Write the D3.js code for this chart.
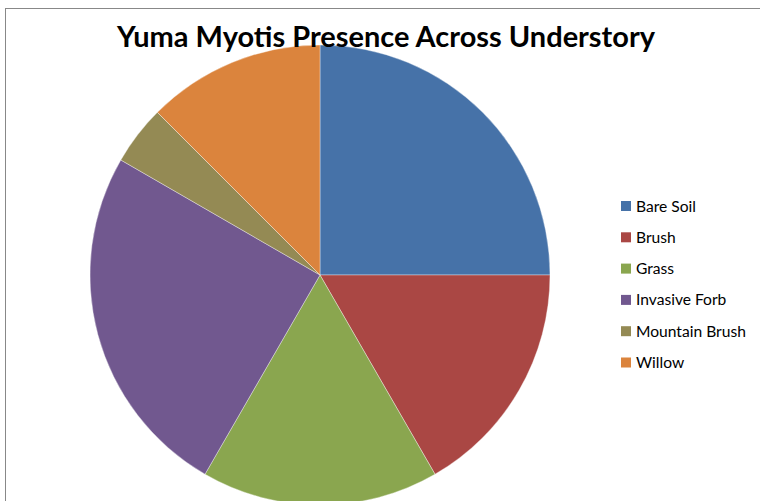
<!DOCTYPE html>
<html>
<head>
<meta charset="utf-8">
<script src="https://cdn.jsdelivr.net/npm/d3@7"></script>
<style>
  html, body { margin: 0; padding: 0; background: #fff; }
  svg { display: block; }
</style>
</head>
<body>
<svg id="chart" width="760" height="501"></svg>
<script>
// Understory categories and the count of Yuma myotis detections in each
const categories = ["Bare Soil", "Brush", "Grass", "Invasive Forb", "Mountain Brush", "Willow"];
const counts = [6, 4, 4, 6, 1, 3];
const colors = ["#4672A8", "#AA4744", "#8AA64F", "#71588F", "#948A54", "#DB843D"];
const title = "Yuma Myotis Presence Across Understory";

const svg = d3.select("#chart");
const W = 760, H = 501;

// chart area frame
svg.append("rect")
  .attr("x", 5.5).attr("y", 8.5)
  .attr("width", W + 10).attr("height", H + 10)
  .attr("fill", "#fff")
  .attr("stroke", "#888").attr("stroke-width", 1);

const data = categories.map((c, i) => ({ name: c, value: counts[i], color: colors[i] }));

const pie = d3.pie().value(d => d.value).sort(null);
const radius = 230;
const arc = d3.arc().innerRadius(0).outerRadius(radius);

const g = svg.append("g").attr("transform", "translate(320,275)");
g.selectAll("path")
  .data(pie(data))
  .join("path")
  .attr("d", arc)
  .attr("fill", d => d.data.color)
  .attr("stroke", "#fff")
  .attr("stroke-opacity", 0.6)
  .attr("stroke-width", 0.6);

// title
svg.append("text")
  .attr("x", 386).attr("y", 47)
  .attr("text-anchor", "middle")
  .attr("font-family", "Lato, 'Open Sans', sans-serif")
  .attr("font-weight", "bold")
  .attr("font-size", 28)
  .attr("fill", "#000")
  .attr("textLength", 538)
  .attr("lengthAdjust", "spacingAndGlyphs")
  .text(title);

// legend
const legend = svg.append("g").attr("transform", "translate(621,206)");
const rowH = 31.3;
const items = legend.selectAll("g")
  .data(data)
  .join("g")
  .attr("transform", (d, i) => `translate(0,${i * rowH})`);
items.append("rect")
  .attr("x", 0).attr("y", -5)
  .attr("width", 10).attr("height", 10)
  .attr("fill", d => d.color);
items.append("text")
  .attr("x", 15).attr("y", 5.5)
  .attr("font-family", "Lato, 'Open Sans', sans-serif")
  .attr("font-size", 15.6)
  .attr("fill", "#000")
  .text(d => d.name);
</script>
</body>
</html>
